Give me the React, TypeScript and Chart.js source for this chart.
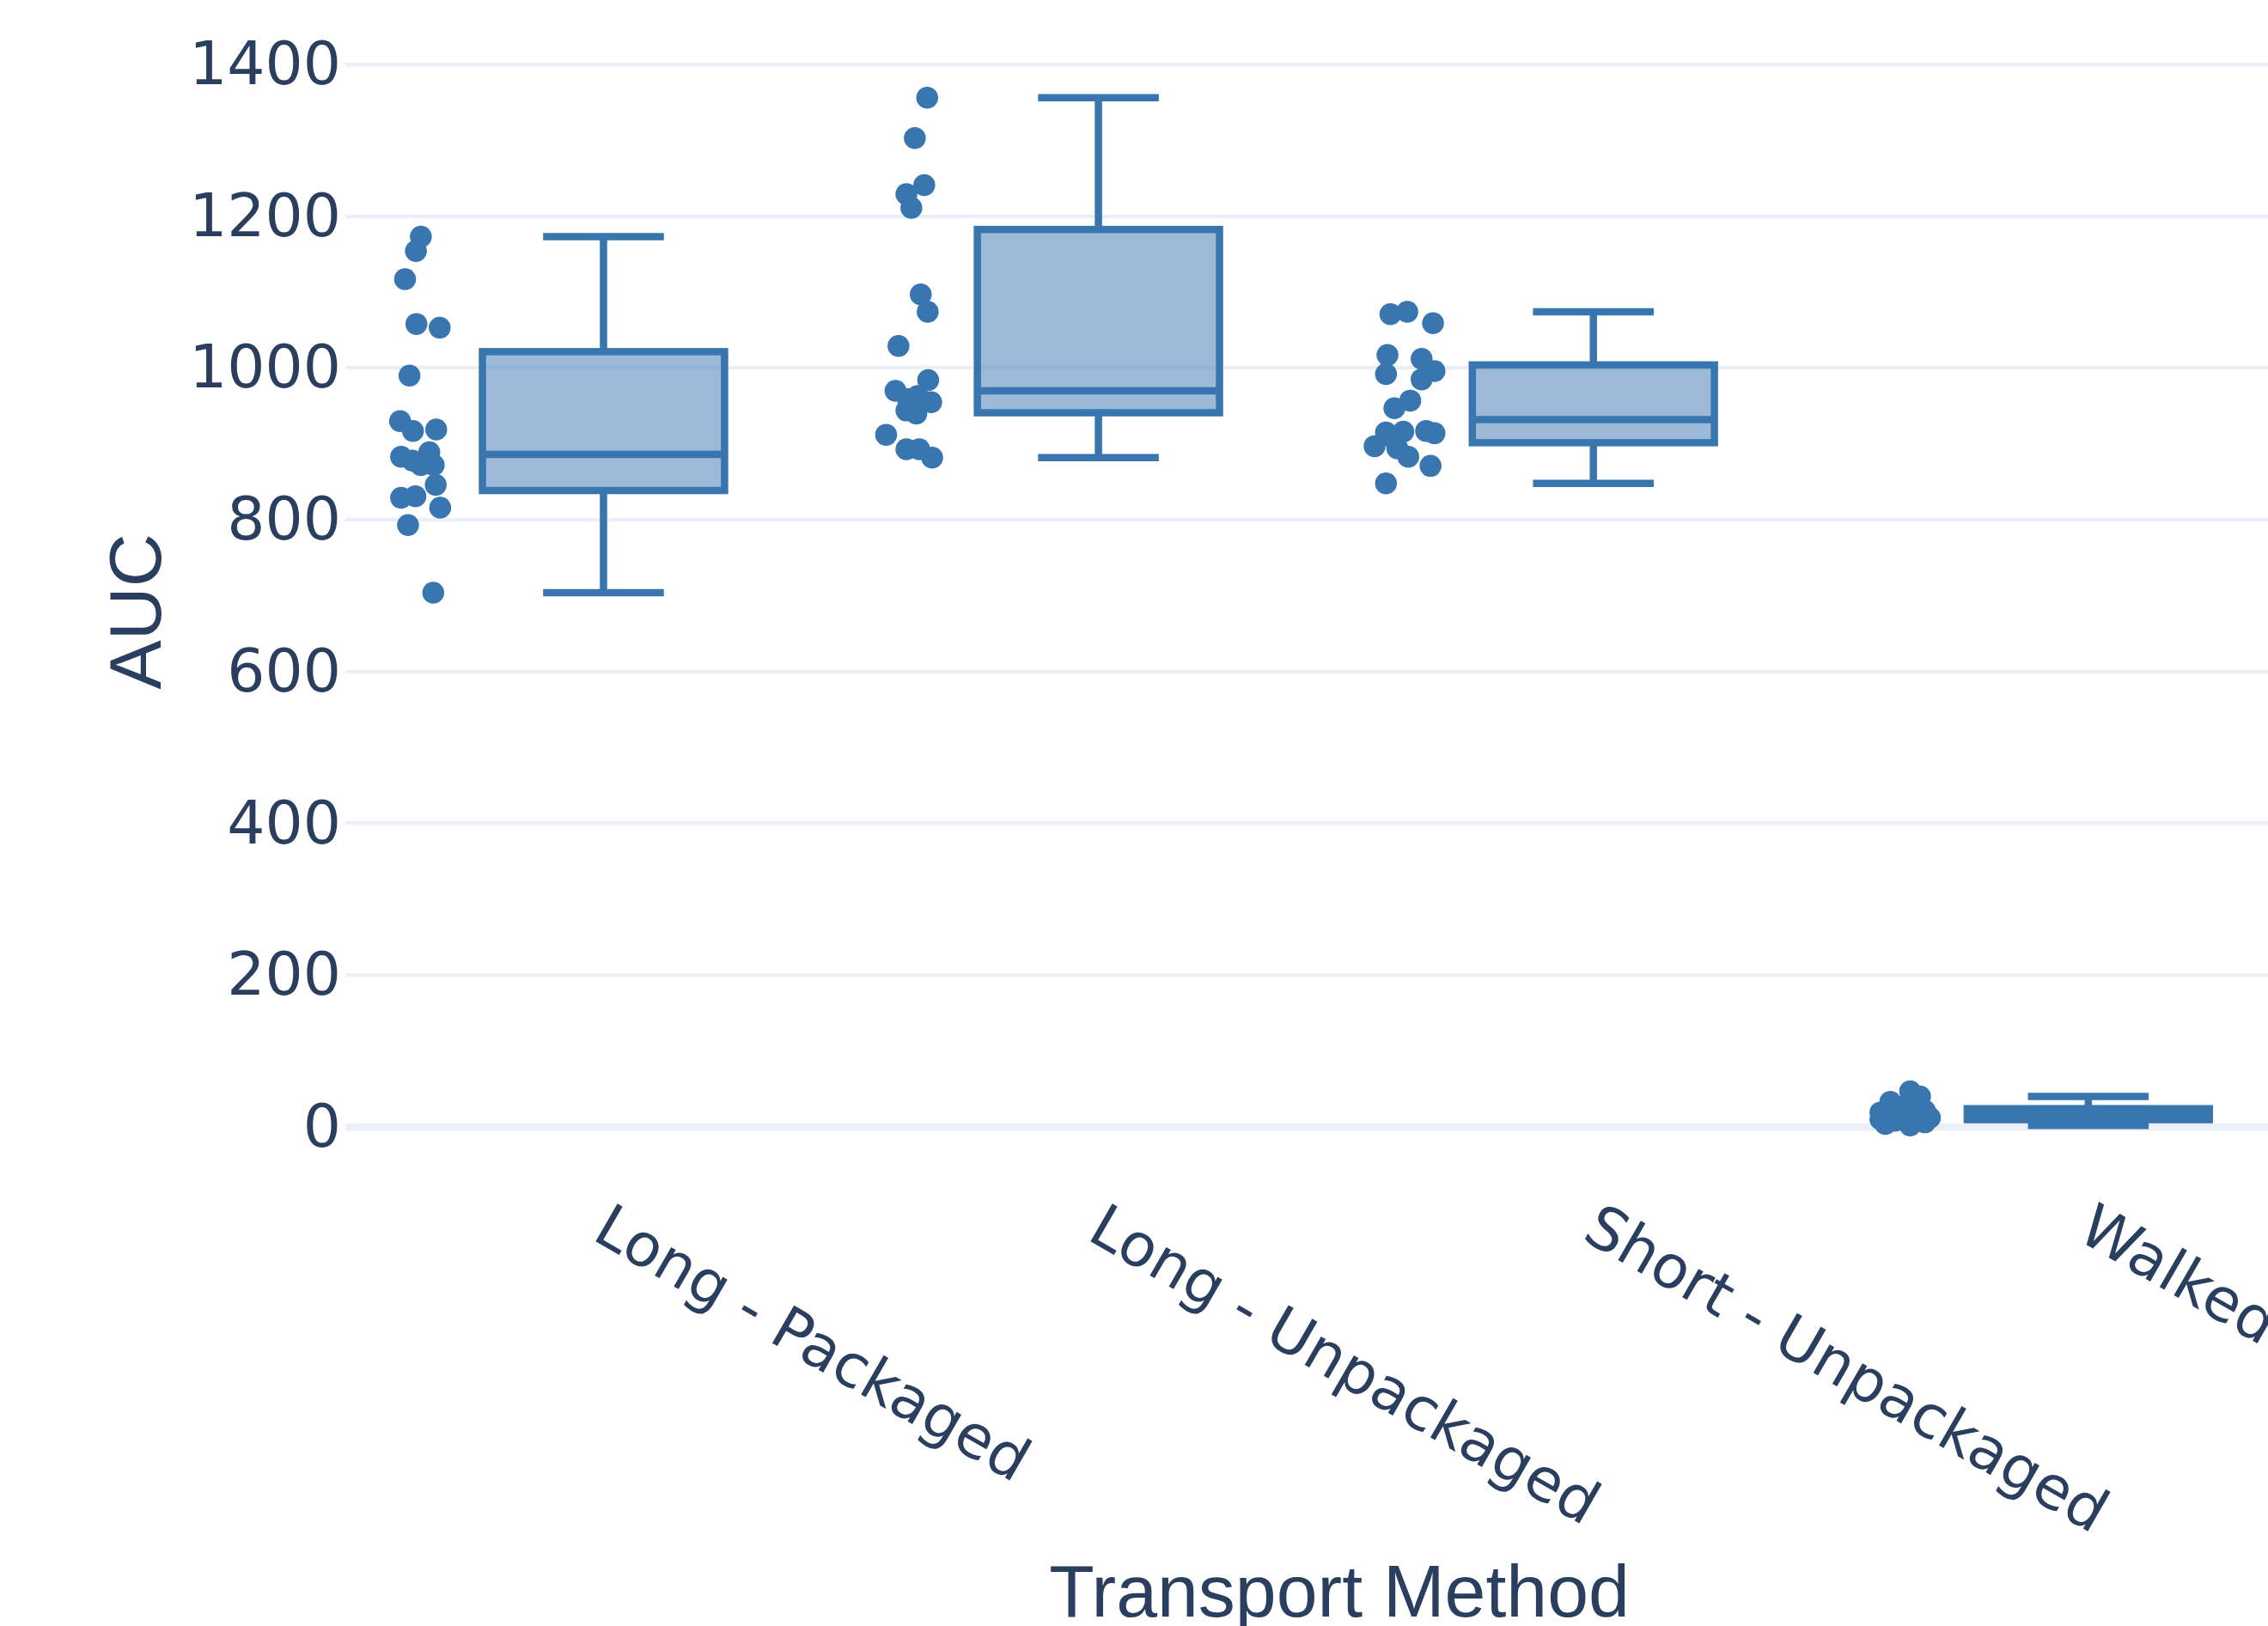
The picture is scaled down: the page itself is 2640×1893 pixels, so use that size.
import React, { useEffect, useRef } from "react";
import { Chart, registerables } from "chart.js";

Chart.register(...registerables);

// ---------- data ----------
const categories = ["Long - Packaged", "Long - Unpackaged", "Short - Unpackaged", "Walked"];

const aucLongPackaged = [1173, 1154, 1117, 1058, 1053, 990, 930, 917, 919, 883, 878, 872, 889, 872, 846, 829, 831, 816, 793, 704];
const jitterLongPackaged = [-0.369, -0.379, -0.401, -0.378, -0.331, -0.392, -0.411, -0.385, -0.338, -0.409, -0.386, -0.369, -0.352, -0.343, -0.339, -0.409, -0.38, -0.33, -0.395, -0.344];

const aucLongUnpackaged = [1356, 1303, 1241, 1229, 1211, 1097, 1074, 1029, 984, 970, 959, 963, 955, 944, 940, 912, 893, 893, 882];
const jitterLongUnpackaged = [-0.346, -0.371, -0.352, -0.388, -0.378, -0.359, -0.345, -0.404, -0.344, -0.41, -0.385, -0.365, -0.338, -0.388, -0.368, -0.429, -0.388, -0.362, -0.336];

const aucShortUnpackaged = [1071, 1074, 1059, 1017, 992, 1012, 996, 985, 957, 947, 915, 916, 917, 914, 897, 894, 883, 871, 848, 906];
const jitterShortUnpackaged = [-0.41, -0.376, -0.324, -0.416, -0.419, -0.347, -0.321, -0.347, -0.37, -0.402, -0.419, -0.384, -0.338, -0.321, -0.442, -0.396, -0.374, -0.329, -0.419, -0.402];

const aucWalked = [2, 4, 6, 8, 9, 10, 11, 12, 13, 14, 16, 18, 19, 21, 23, 25, 28, 33, 40, 47];
const jitterWalked = [-0.36, -0.41, -0.33, -0.39, -0.35, -0.42, -0.37, -0.32, -0.4, -0.34, -0.38, -0.36, -0.42, -0.33, -0.39, -0.35, -0.37, -0.4, -0.34, -0.36];

const yTickValues = [0, 200, 400, 600, 800, 1000, 1200, 1400];

const groups = [aucLongPackaged, aucLongUnpackaged, aucShortUnpackaged, aucWalked];
const jitters = [jitterLongPackaged, jitterLongUnpackaged, jitterShortUnpackaged, jitterWalked];

// ---------- styles ----------
const COLOR = "rgb(57,118,175)";
const FILL = "rgba(57,118,175,0.5)";
const TEXT = "#2a3f5f";
const GRID = "#ebf0f8";
const BOX_HALF = 0.2446;
const CAP_HALF = 0.122;
const LINE_W = 8.5;
const TICK_FONT = "'DejaVu Sans', Verdana, sans-serif";
const TITLE_FONT = "'Liberation Sans', Arial, sans-serif";

// Plotly "linear" quartile method (#10)
function quantile(sorted: number[], p: number) {
  const n = sorted.length;
  let pos = n * p + 0.5;
  if (pos < 1) pos = 1;
  if (pos > n) pos = n;
  const lo = Math.floor(pos);
  const hi = Math.ceil(pos);
  const f = pos - lo;
  return sorted[lo - 1] + (sorted[hi - 1] - sorted[lo - 1]) * f;
}

function boxStats(vals: number[]) {
  const s = [...vals].sort((a, b) => a - b);
  const q1 = quantile(s, 0.25);
  const med = quantile(s, 0.5);
  const q3 = quantile(s, 0.75);
  const iqr = q3 - q1;
  const lo = s.find((v) => v >= q1 - 1.5 * iqr) as number;
  const hi = [...s].reverse().find((v) => v <= q3 + 1.5 * iqr) as number;
  return { q1, med, q3, lo, hi };
}

const boxPlugin = {
  id: "boxPlugin",
  afterDatasetsDraw(chart: any) {
    const { ctx, scales } = chart;
    const x = scales.x;
    const y = scales.y;
    ctx.save();
    ctx.lineWidth = LINE_W;
    ctx.strokeStyle = COLOR;
    ctx.lineJoin = "miter";
    ctx.lineCap = "butt";
    groups.forEach((vals, i) => {
      const s = boxStats(vals);
      const xc = x.getPixelForValue(i);
      const xl = x.getPixelForValue(i - BOX_HALF);
      const xr = x.getPixelForValue(i + BOX_HALF);
      const cl = x.getPixelForValue(i - CAP_HALF);
      const cr = x.getPixelForValue(i + CAP_HALF);
      const yq1 = y.getPixelForValue(s.q1);
      const yq3 = y.getPixelForValue(s.q3);
      const ym = y.getPixelForValue(s.med);
      const ylo = y.getPixelForValue(s.lo);
      const yhi = y.getPixelForValue(s.hi);
      ctx.fillStyle = FILL;
      ctx.fillRect(xl, yq3, xr - xl, yq1 - yq3);
      ctx.beginPath();
      ctx.moveTo(xc, yq3);
      ctx.lineTo(xc, yhi);
      ctx.moveTo(cl, yhi);
      ctx.lineTo(cr, yhi);
      ctx.moveTo(xc, yq1);
      ctx.lineTo(xc, ylo);
      ctx.moveTo(cl, ylo);
      ctx.lineTo(cr, ylo);
      ctx.stroke();
      ctx.strokeRect(xl, yq3, xr - xl, yq1 - yq3);
      ctx.beginPath();
      ctx.moveTo(xl, ym);
      ctx.lineTo(xr, ym);
      ctx.stroke();
    });
    // rotated category labels
    ctx.fillStyle = TEXT;
    ctx.font = "69.5px " + TICK_FONT;
    ctx.textAlign = "left";
    ctx.textBaseline = "middle";
    categories.forEach((c, i) => {
      const px = x.getPixelForValue(i);
      ctx.save();
      ctx.translate(px - 6, chart.chartArea.bottom + 54);
      ctx.rotate(Math.PI / 6);
      ctx.fillText(c, 0, 0);
      ctx.restore();
    });
    ctx.restore();
  },
};

export default function App() {
  const ref = useRef<HTMLCanvasElement | null>(null);

  useEffect(() => {
    if (!ref.current) return;
    const datasets = groups.map((vals, i) => ({
      label: categories[i],
      data: vals.map((v, j) => ({ x: i + jitters[i][j], y: v })),
      pointRadius: 12.75,
      pointBackgroundColor: COLOR,
      pointBorderWidth: 0,
      pointBorderColor: COLOR,
      showLine: false,
    }));
    const chart = new Chart(ref.current, {
      type: "scatter",
      data: { datasets },
      plugins: [boxPlugin],
      options: {
        responsive: false,
        animation: false,
        devicePixelRatio: 1,
        events: [],
        layout: { padding: { left: 0, top: 52, right: 84, bottom: 0 } },
        plugins: { legend: { display: false }, tooltip: { enabled: false } },
        scales: {
          x: {
            type: "linear",
            min: -0.5216,
            max: 3.495,
            grid: { display: false },
            border: { display: false },
            ticks: { display: false },
            title: {
              display: true,
              text: "Transport Method",
              color: TEXT,
              font: { family: TITLE_FONT, size: 86 },
              padding: { top: 0, bottom: 0 },
            },
            afterFit: (s: any) => {
              s.height = 538;
            },
          },
          y: {
            type: "linear",
            min: -68,
            max: 1426,
            afterBuildTicks: (s: any) => {
              s.ticks = yTickValues.map((v) => ({ value: v }));
            },
            grid: {
              color: GRID,
              lineWidth: (c: any) => (c.tick && c.tick.value === 0 ? 8.5 : 4.25),
              drawTicks: false,
            },
            border: { display: false },
            ticks: {
              color: TEXT,
              font: { family: TICK_FONT, size: 69.5 },
              padding: 5,
              labelOffset: 5,
              callback: (v: any) => String(v),
            },
            title: {
              display: true,
              text: "AUC",
              color: TEXT,
              font: { family: TITLE_FONT, size: 86 },
              padding: { top: 112, bottom: 0 },
            },
            afterFit: (s: any) => {
              s.width = 402;
            },
          },
        },
      } as any,
    });
    return () => chart.destroy();
  }, []);

  return (
    <div
      style={{
        position: "absolute",
        left: 0,
        top: 0,
        width: 2640,
        height: 1893,
        overflow: "hidden",
        background: "#fff",
      }}
    >
      <canvas ref={ref} width={2800} height={1910} style={{ display: "block" }} />
    </div>
  );
}
